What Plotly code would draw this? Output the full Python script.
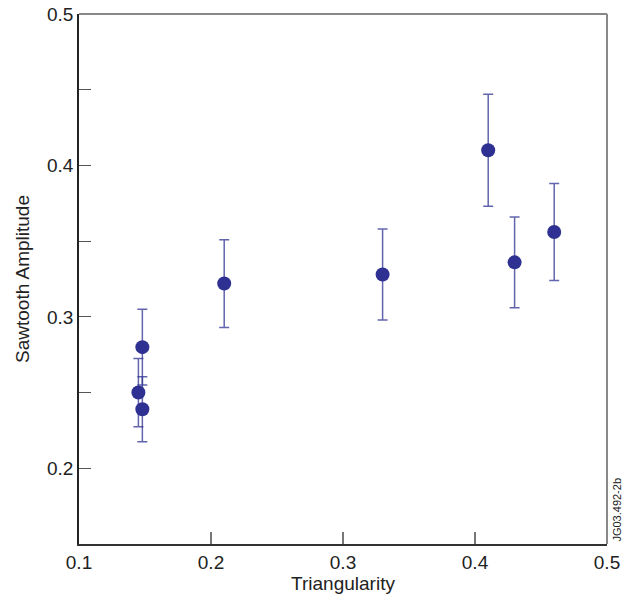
import plotly.graph_objects as go

# triangularity vs sawtooth amplitude with error bars
triangularity = [0.145, 0.148, 0.148, 0.21, 0.33, 0.41, 0.43, 0.46]
amplitude = [0.250, 0.280, 0.239, 0.322, 0.328, 0.410, 0.336, 0.356]
amp_err = [0.0225, 0.025, 0.0215, 0.029, 0.030, 0.037, 0.030, 0.032]

y_ticks = [0.15, 0.2, 0.25, 0.3, 0.35, 0.4, 0.45, 0.5]
y_labels = ["", "0.2", "", "0.3", "", "0.4", "", "0.5"]
x_ticks = [0.1, 0.2, 0.3, 0.4, 0.5]
x_labels = ["0.1", "0.2", "0.3", "0.4", "0.5"]

navy = "#2e3192"
font_family = "Liberation Sans, Arial, sans-serif"

fig = go.Figure(go.Scatter(
    x=triangularity,
    y=amplitude,
    mode="markers",
    marker=dict(color=navy, size=14, line=dict(width=0)),
    error_y=dict(type="data", array=amp_err, visible=True,
                 color="rgba(46,49,146,0.75)", thickness=1.5, width=5),
    showlegend=False,
))

fig.update_xaxes(
    range=[0.1, 0.5], tickvals=x_ticks, ticktext=x_labels,
    ticks="inside", ticklen=12, tickcolor="#777", tickwidth=1.5,
    showline=True, linecolor="#333", linewidth=1.5,
    showgrid=False, zeroline=False, automargin=False,
    ticklabeloverflow="allow",
    title=dict(text="Triangularity", font=dict(size=19, color="#222"), standoff=4),
    tickfont=dict(size=19, color="#222"),
)
fig.update_yaxes(
    range=[0.15, 0.5], tickvals=y_ticks, ticktext=y_labels,
    ticks="inside", ticklen=12, tickcolor="#555", tickwidth=1,
    showline=True, linecolor="#222", linewidth=1.5,
    showgrid=False, zeroline=False, automargin=False,
    ticklabeloverflow="allow",
    title=dict(text="Sawtooth Amplitude", font=dict(size=19, color="#222"), standoff=12),
    tickfont=dict(size=19, color="#222"),
)

# gray top and right frame lines
fig.add_shape(type="line", xref="paper", yref="paper", x0=0, x1=1, y0=1, y1=1,
              line=dict(color="#888", width=2))
fig.add_shape(type="line", xref="paper", yref="paper", x0=1, x1=1, y0=0, y1=1,
              line=dict(color="#888", width=2))

fig.add_annotation(text="JG03.492-2b", xref="paper", yref="paper",
                   x=1.003, y=0, xanchor="left", yanchor="bottom",
                   textangle=-90, showarrow=False,
                   font=dict(size=11, color="#222"))

fig.update_layout(
    width=634, height=601,
    margin=dict(l=79, r=27, t=14, b=57),
    paper_bgcolor="white", plot_bgcolor="white",
    font=dict(family=font_family, color="#222"),
)

# drop the default 8px body margin so the figure fills the window
fig.write_html("out.html", config={"displayModeBar": False},
               post_script="document.body.style.margin='0';")
